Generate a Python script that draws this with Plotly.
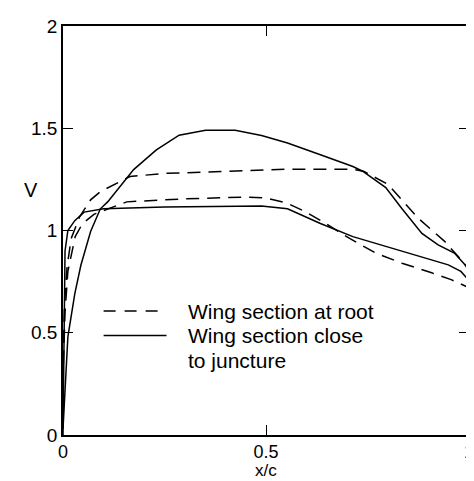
import plotly.graph_objects as go

# Wing section at root (dashed)
root_upper_x = [0.001, 0.004, 0.01, 0.02, 0.041, 0.068, 0.092, 0.165, 0.25, 0.375, 0.56, 0.71, 0.74, 0.80, 0.876, 0.94, 0.988, 1.0]
root_upper_y = [0.45, 0.65, 0.82, 0.96, 1.067, 1.15, 1.19, 1.264, 1.279, 1.288, 1.30, 1.30, 1.29, 1.226, 1.058, 0.947, 0.84, 0.80]
root_lower_x = [0.001, 0.005, 0.012, 0.03, 0.048, 0.077, 0.157, 0.3, 0.448, 0.5, 0.55, 0.593, 0.64, 0.707, 0.77, 0.835, 0.908, 0.956, 1.0]
root_lower_y = [0.35, 0.6, 0.8, 0.97, 1.034, 1.08, 1.14, 1.155, 1.163, 1.159, 1.135, 1.096, 1.043, 0.96, 0.89, 0.84, 0.793, 0.76, 0.72]

# Wing section close to juncture (solid)
junc_upper_x = [0.0, 0.005, 0.012, 0.029, 0.044, 0.068, 0.092, 0.11, 0.174, 0.23, 0.286, 0.351, 0.424, 0.489, 0.553, 0.634, 0.714, 0.738, 0.795, 0.835, 0.884, 0.924, 0.964, 0.997, 1.0]
junc_upper_y = [0.03, 0.25, 0.48, 0.69, 0.83, 0.995, 1.106, 1.14, 1.298, 1.394, 1.466, 1.49, 1.49, 1.465, 1.428, 1.37, 1.313, 1.29, 1.21, 1.106, 0.986, 0.93, 0.89, 0.817, 0.79]
junc_lower_x = [0.0, 0.002, 0.005, 0.012, 0.029, 0.052, 0.1, 0.25, 0.4, 0.489, 0.553, 0.634, 0.714, 0.795, 0.876, 0.949, 0.98, 1.0]
junc_lower_y = [0.0, 0.5, 0.9, 1.0, 1.048, 1.09, 1.106, 1.115, 1.118, 1.12, 1.106, 1.034, 0.97, 0.923, 0.875, 0.832, 0.8, 0.755]

x_ticks = [0, 0.5, 1]
x_tick_labels = ["0", "0.5", "1"]
y_ticks = [0, 0.5, 1, 1.5, 2]
y_tick_labels = ["0", "0.5", "1", "1.5", "2"]

FONT = "Liberation Sans, Arial, sans-serif"
dash = "13px,8px"

fig = go.Figure()
for xs, ys, d in [(root_upper_x, root_upper_y, dash), (root_lower_x, root_lower_y, dash),
                  (junc_upper_x, junc_upper_y, "solid"), (junc_lower_x, junc_lower_y, "solid")]:
    fig.add_trace(go.Scatter(x=xs, y=ys, mode="lines",
                             line=dict(color="black", width=1.5, dash=d),
                             showlegend=False, hoverinfo="skip"))

axis_common = dict(showgrid=False, zeroline=False, showline=True, linecolor="black",
                   linewidth=1.5, mirror="ticks", ticks="inside", ticklen=10,
                   tickwidth=1.2, tickcolor="black")
fig.update_xaxes(range=[0, 1], tickvals=x_ticks, ticktext=x_tick_labels,
                 ticklabeloverflow="allow",
                 tickfont=dict(family=FONT, size=18, color="black"), **axis_common)
fig.update_yaxes(range=[0, 2], tickvals=y_ticks, ticktext=y_tick_labels,
                 tickfont=dict(family=FONT, size=19, color="black"), **axis_common)

# Legend drawn by hand
fig.add_shape(type="line", xref="paper", yref="paper", x0=0.10, x1=0.255, y0=0.303, y1=0.303,
              line=dict(color="black", width=1.5, dash="12px,9px"))
fig.add_shape(type="line", xref="paper", yref="paper", x0=0.10, x1=0.255, y0=0.243, y1=0.243,
              line=dict(color="black", width=1.5))
for txt, yy in [("Wing section at root", 0.303), ("Wing section close", 0.243), ("to juncture", 0.183)]:
    fig.add_annotation(text=txt, xref="paper", yref="paper", x=0.303, y=yy,
                       xanchor="left", yanchor="middle", showarrow=False,
                       font=dict(family=FONT, size=21, color="black"))

fig.add_annotation(text="V", xref="paper", yref="paper", x=-0.08, y=0.6,
                   xanchor="center", yanchor="middle", showarrow=False,
                   font=dict(family=FONT, size=20, color="black"))
fig.add_annotation(text="x/c", xref="paper", yref="paper", x=0.5, y=-0.088,
                   xanchor="center", yanchor="middle", showarrow=False,
                   font=dict(family=FONT, size=17, color="black"))

fig.update_layout(width=474, height=481, margin=dict(l=55, r=8, t=14, b=54),
                  paper_bgcolor="white", plot_bgcolor="white", showlegend=False)

fig.write_html("out.html")
